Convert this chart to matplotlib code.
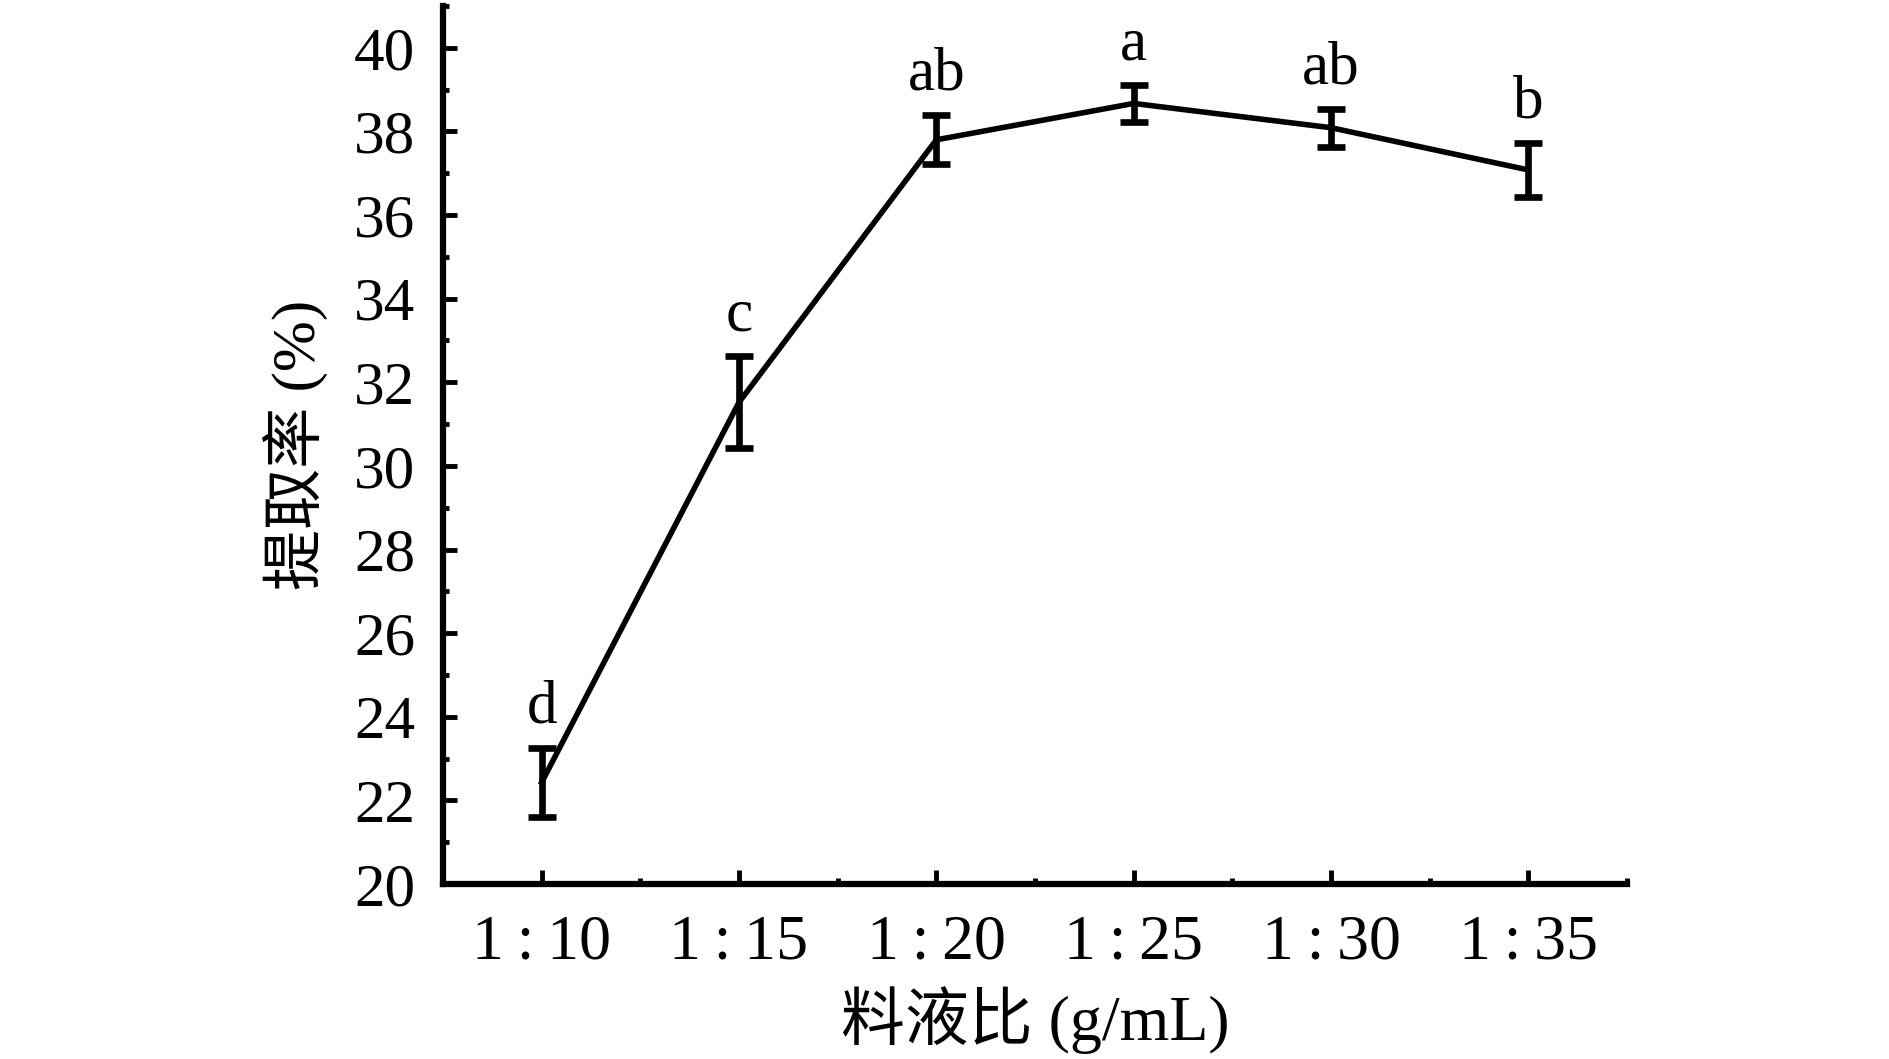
import matplotlib
matplotlib.use("Agg")
import matplotlib.pyplot as plt
from matplotlib.ticker import FixedLocator
import numpy as np

categories = ["1\u2009:\u200910", "1\u2009:\u200915", "1\u2009:\u200920",
              "1\u2009:\u200925", "1\u2009:\u200930", "1\u2009:\u200935"]
means = [22.43, 31.52, 37.80, 38.67, 38.09, 37.08]
errors = [0.82, 1.10, 0.59, 0.45, 0.45, 0.64]
letters = ["d", "c", "ab", "a", "ab", "b"]
y_ticks = [20, 22, 24, 26, 28, 30, 32, 34, 36, 38, 40]

serif = ["Liberation Serif", "Noto Sans CJK SC"]
plt.rcParams["font.family"] = serif

fig = plt.figure(figsize=(18.9, 10.59), dpi=100)
ax = fig.add_axes([0.2344, 0.1653, 0.8608 - 0.2344, 0.9943 - 0.1653])

x = np.arange(len(categories))
ax.errorbar(x, means, yerr=errors, color="black", lw=4.0, elinewidth=4.8,
            capsize=10, capthick=4.8, zorder=3)

for xi, m, e, lab in zip(x, means, errors, letters):
    ax.text(xi, m + e + 0.3, lab, ha="center", va="bottom", fontsize=44,
            family=serif)

ax.set_xlim(-0.5, 5.5)
ax.set_ylim(20, 41)
ax.set_xticks(x)
ax.set_xticklabels(categories)
ax.xaxis.set_minor_locator(FixedLocator(np.arange(-0.5, 5.6, 1.0)))
ax.set_yticks(y_ticks)
ax.yaxis.set_minor_locator(FixedLocator(np.arange(21, 41.5, 2)))

for s in ["top", "right"]:
    ax.spines[s].set_visible(False)
for s in ["left", "bottom"]:
    ax.spines[s].set_linewidth(4.5)

ax.tick_params(which="major", direction="in", length=10, width=3.5,
               labelsize=44, pad=20)
ax.tick_params(which="minor", direction="in", length=4.5, width=3.5)
ax.tick_params(axis="x", which="major", labelsize=46, pad=22)

ax.set_xlabel("料液比 (g/mL)", fontsize=46, labelpad=10, family=serif)
ax.set_ylabel("提取率 (%)", fontsize=44, labelpad=18, family=serif)

fig.savefig("out.png", dpi=100)
